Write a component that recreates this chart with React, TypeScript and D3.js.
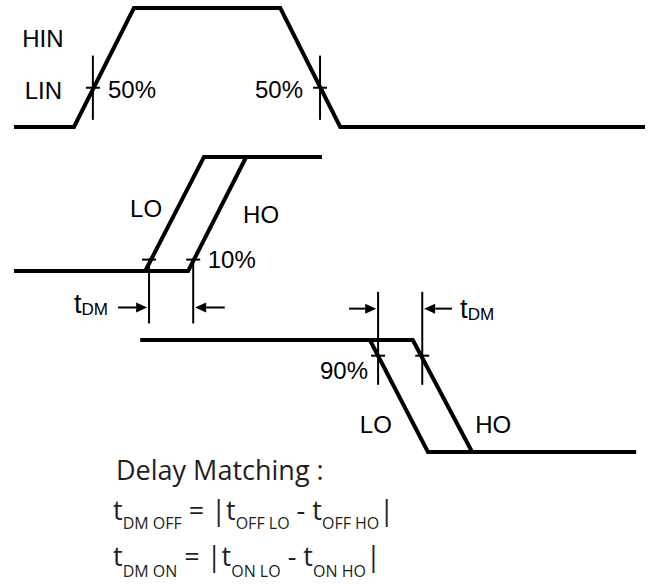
import * as d3 from "d3";

const W = 649;
const H = 586;

// time axis: 0..100 arbitrary units across the drawing
const TIME_DOMAIN: [number, number] = [0, 100];

// waveform vertices: [time, level] with level 0 = low, 1 = high
const inWave: [number, number][] = [[0, 0], [9.5, 0], [19.0, 1], [42.2, 1], [51.7, 0], [100, 0]];
const onLo: [number, number][] = [[0, 0], [20.8, 0], [30.1, 1], [48.8, 1]];
const onHo: [number, number][] = [[20.8, 0], [27.6, 0], [36.8, 1]];
const offLo: [number, number][] = [[20.0, 1], [56.4, 1], [65.6, 0], [98.6, 0]];
const offHo: [number, number][] = [[56.4, 1], [63.2, 1], [72.6, 0]];

// measurement cursors: time, tick level, line from/to levels
const inCursors = [
  { t: 12.5, tick: 0.33, from: 0.6, to: 0.06 },
  { t: 48.5, tick: 0.33, from: 0.6, to: 0.06 },
];
const onCursors = [
  { t: 21.4, tick: 0.1, from: 0.11, to: -0.46 },
  { t: 28.4, tick: 0.1, from: 0.11, to: -0.46 },
];
const offCursors = [
  { t: 57.7, tick: 0.86, from: 1.43, to: 0.6 },
  { t: 64.7, tick: 0.86, from: 1.43, to: 0.6 },
];

// delay arrows: [tail time, head time, level]
const onArrows: [number, number, number][] = [[16.5, 21.1, -0.32], [33.4, 28.7, -0.32]];
const offArrows: [number, number, number][] = [[53.1, 57.4, 1.28], [69.4, 65.0, 1.28]];

type Label = { text: string; t: number; level: number; anchor?: string };
const inLabels: Label[] = [
  { text: "HIN", t: 1.3, level: 0.67 },
  { text: "LIN", t: 1.7, level: 0.235 },
  { text: "50%", t: 14.9, level: 0.244 },
  { text: "50%", t: 45.8, level: 0.244, anchor: "end" },
];
const onLabels: Label[] = [
  { text: "LO", t: 18.4, level: 0.47 },
  { text: "HO", t: 36.3, level: 0.42 },
  { text: "10%", t: 30.7, level: 0.03 },
];
const offLabels: Label[] = [
  { text: "90%", t: 56.1, level: 0.65, anchor: "end" },
  { text: "LO", t: 54.8, level: 0.17 },
  { text: "HO", t: 73.1, level: 0.17 },
];
const tdmLabels = [
  { trace: "on", t: 9.5, level: -0.37 },
  { trace: "off", t: 70.7, level: 1.2 },
];

const x = d3.scaleLinear().domain(TIME_DOMAIN).range([14, 645]);
const yIn = d3.scaleLinear().domain([0, 1]).range([127, 8]);
const yOn = d3.scaleLinear().domain([0, 1]).range([271, 157]);
const yOff = d3.scaleLinear().domain([0, 1]).range([452, 340]);

const LABEL_FONT = "'Liberation Sans', Arial, sans-serif";
const FORMULA_FONT = "'Open Sans', 'Noto Sans', sans-serif";

function Wave({ pts, y }: { pts: [number, number][]; y: d3.ScaleLinear<number, number> }) {
  const line = d3
    .line<[number, number]>()
    .x((d) => x(d[0]))
    .y((d) => y(d[1]));
  return <path d={line(pts) ?? ""} fill="none" stroke="#000" strokeWidth={4} strokeLinejoin="miter" />;
}

function Cursors({
  items,
  y,
}: {
  items: { t: number; tick: number; from: number; to: number }[];
  y: d3.ScaleLinear<number, number>;
}) {
  return (
    <g stroke="#000" strokeWidth={2}>
      {items.map((c, i) => (
        <g key={i}>
          <line x1={x(c.t)} x2={x(c.t)} y1={y(c.from)} y2={y(c.to)} />
          <line x1={x(c.t) - 7} x2={x(c.t) + 7} y1={y(c.tick)} y2={y(c.tick)} />
        </g>
      ))}
    </g>
  );
}

function Arrows({ items, y }: { items: [number, number, number][]; y: d3.ScaleLinear<number, number> }) {
  return (
    <g>
      {items.map(([tail, head, lv], i) => {
        const x0 = x(tail);
        const x1 = x(head);
        const yy = y(lv);
        const dir = x1 > x0 ? 1 : -1;
        const back = x1 - dir * 11;
        return (
          <g key={i}>
            <line x1={x0} x2={back} y1={yy} y2={yy} stroke="#000" strokeWidth={2} />
            <path d={`M${x1},${yy}L${back},${yy - 5}L${back},${yy + 5}Z`} fill="#000" />
          </g>
        );
      })}
    </g>
  );
}

function Labels({ items, y }: { items: Label[]; y: d3.ScaleLinear<number, number> }) {
  return (
    <g fontFamily={LABEL_FONT} fontSize={24} fill="#000">
      {items.map((l, i) => (
        <text key={i} x={x(l.t)} y={y(l.level)} textAnchor={l.anchor ?? "start"}>
          {l.text}
        </text>
      ))}
    </g>
  );
}

export default function App() {
  const pre = { whiteSpace: "pre" as const };
  return (
    <svg
      width={W}
      height={H}
      viewBox={`0 0 ${W} ${H}`}
      style={{ position: "absolute", left: 0, top: 0, background: "#fff" }}
    >
      <rect width={W} height={H} fill="#fff" />
      <Wave pts={inWave} y={yIn} />
      <Wave pts={onLo} y={yOn} />
      <Wave pts={onHo} y={yOn} />
      <Wave pts={offLo} y={yOff} />
      <Wave pts={offHo} y={yOff} />

      <Cursors items={inCursors} y={yIn} />
      <Cursors items={onCursors} y={yOn} />
      <Cursors items={offCursors} y={yOff} />

      <Arrows items={onArrows} y={yOn} />
      <Arrows items={offArrows} y={yOff} />

      <Labels items={inLabels} y={yIn} />
      <Labels items={onLabels} y={yOn} />
      <Labels items={offLabels} y={yOff} />

      {tdmLabels.map((l, i) => {
        const y = l.trace === "on" ? yOn : yOff;
        return (
          <text key={i} x={x(l.t)} y={y(l.level)} fontFamily={LABEL_FONT} fontSize={27}>
            t<tspan fontSize={17} dy={2}>DM</tspan>
          </text>
        );
      })}

      {/* delay matching formula */}
      <g fontFamily={FORMULA_FONT} fill="#231f20" style={pre}>
        <text x={116} y={480} fontSize={27}>
          Delay Matching :
        </text>
        <text x={113} y={520} fontSize={27}>
          t<tspan fontSize={16} dy={9}>DM OFF</tspan>
          <tspan dy={-9}> = |t</tspan>
          <tspan fontSize={16} dy={9}>OFF LO</tspan>
          <tspan dy={-9}> - t</tspan>
          <tspan fontSize={16} dy={9}>OFF HO</tspan>
          <tspan dy={-9}>|</tspan>
        </text>
        <text x={113} y={566} fontSize={27}>
          t<tspan fontSize={16} dy={11}>DM ON</tspan>
          <tspan dy={-11}> = |t</tspan>
          <tspan fontSize={16} dy={11}>ON LO</tspan>
          <tspan dy={-11}> - t</tspan>
          <tspan fontSize={16} dy={11}>ON  HO</tspan>
          <tspan dy={-11}>|</tspan>
        </text>
      </g>
    </svg>
  );
}
